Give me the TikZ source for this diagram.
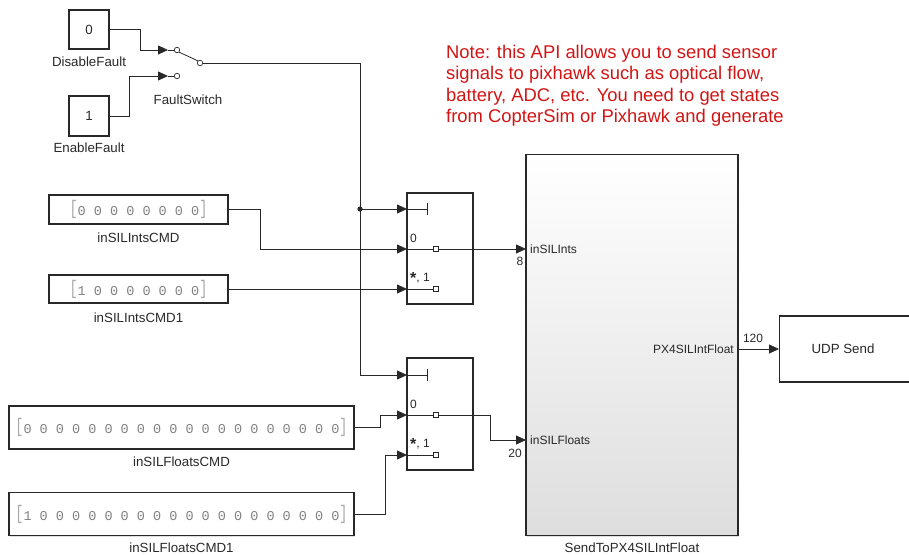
\documentclass[tikz,border=0pt]{standalone}
\usepackage{fontspec}
\usepackage{graphicx}
\setmainfont{Liberation Sans}
\newfontfamily\monof{Liberation Mono}
\usetikzlibrary{arrows.meta,shadows}
\definecolor{blk}{RGB}{40,40,40}
\definecolor{notered}{RGB}{210,20,20}
\definecolor{cgray}{RGB}{130,130,130}
\tikzset{
  blockbox/.style={draw=blk,line width=1.2pt,fill=white,inner sep=0pt,
    drop shadow={opacity=0.25,shadow xshift=1.2pt,shadow yshift=-1.2pt}},
  wire/.style={draw=blk,line width=0.8pt},
  arr/.style={wire,-{Triangle[length=10pt,width=9pt]}},
  lbl/.style={font=\fontsize{13.3}{15}\selectfont,text=blk,inner sep=0pt},
  plbl/.style={font=\fontsize{12}{14}\selectfont,text=blk,inner sep=0pt},
  cval/.style={font=\monof\fontsize{13.5}{15}\selectfont,text=cgray},
  swc/.style={draw=blk,line width=0.7pt,fill=white,circle,inner sep=0pt,minimum size=5.5pt},
  sq/.style={draw=blk,line width=0.7pt,fill=white,inner sep=0pt,minimum size=4.5pt},
}
\newcommand{\brk}[1]{\scalebox{1}[1.45]{\raisebox{0.12ex}{\textcolor{cgray!70}{\monof #1}}}}
\newcommand{\stari}{\raisebox{-0.35ex}{\fontsize{16}{16}\selectfont\textbf{*}}}
\begin{document}
\begin{tikzpicture}[x=1pt,y=-1pt]
\useasboundingbox (0,0) rectangle (909,554);
\clip (0,0) rectangle (909,554);

% constant blocks
\node[blockbox,minimum width=40pt,minimum height=39pt,lbl] (df) at (89,29.5) {0};
\node[lbl] (dfl) at (89,62) {DisableFault};
\node[blockbox,minimum width=40pt,minimum height=40pt,lbl] (ef) at (89,116) {1};
\node[lbl] (efl) at (89,148) {EnableFault};

% switch
\coordinate (sw1) at (168,50);
\coordinate (sw2) at (168,76);
\node[swc] (c1) at (177,50) {};
\node[swc] (c2) at (177,76) {};
\node[swc] (c3) at (200,63) {};
\draw[wire] (sw1) -- (c1.west);
\draw[wire] (sw2) -- (c2.west);
\draw[wire] (c1.south east) -- (c3.north west);
\node[lbl] (fsl) at (188,100) {FaultSwitch};

% vector constants
\node[blockbox,minimum width=179pt,minimum height=29pt,cval] (ic) at (138.5,209.5)
  {\brk{[}0 0 0 0 0 0 0 0\brk{]}};
\node[lbl] (icl) at (138.5,238) {inSILIntsCMD};
\node[blockbox,minimum width=179pt,minimum height=28pt,cval] (ic1) at (138.5,289)
  {\brk{[}1 0 0 0 0 0 0 0\brk{]}};
\node[lbl] (ic1l) at (138.5,318) {inSILIntsCMD1};
\node[blockbox,minimum width=345pt,minimum height=43pt,cval] (fc) at (181.5,427.5)
  {\brk{[}0 0 0 0 0 0 0 0 0 0 0 0 0 0 0 0 0 0 0 0\brk{]}};
\node[lbl] (fcl) at (181.5,462) {inSILFloatsCMD};
\node[blockbox,minimum width=345pt,minimum height=43pt,cval] (fc1) at (181.5,514)
  {\brk{[}1 0 0 0 0 0 0 0 0 0 0 0 0 0 0 0 0 0 0 0\brk{]}};
\node[lbl] (fc1l) at (181.5,548) {inSILFloatsCMD1};

% multiport switches
\node[blockbox,minimum width=66pt,minimum height=111pt] (s1) at (440,248.5) {};
\node[blockbox,minimum width=66pt,minimum height=112pt] (s2) at (440,414) {};
\coordinate (s1a) at (407,209);
\coordinate (s1b) at (407,249);
\coordinate (s1c) at (407,289);
\coordinate (s1o) at (473,249);
\coordinate (s2a) at (407,375);
\coordinate (s2b) at (407,415);
\coordinate (s2c) at (407,455);
\coordinate (s2o) at (473,415);
% internals s1
\draw[wire,line width=0.6pt] (s1a) -- ++(20,0) coordinate (t1);
\draw[wire,line width=0.7pt] ([yshift=-6]t1) -- ([yshift=6]t1);
\node[sq] (q1b) at (436,249) {};
\node[sq] (q1c) at (436,289) {};
\draw[wire,line width=0.6pt] (s1b) -- (q1b.west);
\draw[wire,line width=0.6pt] (s1c) -- (q1c.west);
\draw[wire,line width=0.6pt] (q1b.east) -- (s1o);
\node[plbl,anchor=west] (z1) at (410,238) {0};
\node[plbl,anchor=west] (o1) at (410,278) {\stari, 1};
% internals s2
\draw[wire,line width=0.6pt] (s2a) -- ++(20,0) coordinate (t2);
\draw[wire,line width=0.7pt] ([yshift=-6]t2) -- ([yshift=6]t2);
\node[sq] (q2b) at (436,415) {};
\node[sq] (q2c) at (436,455) {};
\draw[wire,line width=0.6pt] (s2b) -- (q2b.west);
\draw[wire,line width=0.6pt] (s2c) -- (q2c.west);
\draw[wire,line width=0.6pt] (q2b.east) -- (s2o);
\node[plbl,anchor=west] (z2) at (410,404) {0};
\node[plbl,anchor=west] (o2) at (410,444) {\stari, 1};

% big subsystem
\node[draw=blk,line width=1.2pt,top color=white,bottom color=black!13,inner sep=0pt,
  minimum width=212pt,minimum height=381pt,
  drop shadow={opacity=0.25,shadow xshift=1.2pt,shadow yshift=-1.2pt}] (big) at (632,345) {};
\node[lbl] (bigl) at (632,548) {SendToPX4SILIntFloat};
\coordinate (bi1) at (526,249);
\coordinate (bi2) at (526,440);
\coordinate (bo) at (738,349);
\node[plbl,anchor=west] (pi1) at (530,249) {inSILInts};
\node[plbl,anchor=west] (pi2) at (530,440) {inSILFloats};
\node[plbl,anchor=east] (po) at (734,349) {PX4SILIntFloat};

% UDP send
\node[blockbox,minimum width=135pt,minimum height=66pt,anchor=west] (udp) at (779,349) {};
\node[lbl] (udpl) at (843,349) {UDP Send};

% note
\node[anchor=north west,inner sep=0pt,text=notered,
  font=\fontsize{18.4}{21.4}\selectfont,align=left] (note) at (446,45)
  {Note: this API allows you to send sensor\\signals to pixhawk such as optical flow,\\battery, ADC, etc. You need to get states\\from CopterSim or Pixhawk and generate};

% connectors
\draw[arr] (df.east) -- (140,29.5) |- (sw1);
\draw[arr] (ef.east) -- (129,116) |- (sw2);
\coordinate (j) at (360,209);
\draw[arr] (c3.east) -- (360,63) |- (s2a);
\draw[arr] (j) -- (s1a);
\fill[blk] (j) circle (2.6pt);
\draw[arr] (ic.east) -- (260,209.5) |- (s1b);
\draw[arr] (ic1.east) -- (s1c);
\draw[arr] (fc.east) -- (380,427.5) |- (s2b);
\draw[arr] (fc1.east) -- (385,514) |- (s2c);
\draw[arr] (s1o) -- (bi1);
\draw[arr] (s2o) -- (490,415) |- (bi2);
\draw[arr] (bo) -- (udp.west);

% signal dimension labels
\node[plbl] (d8) at (520,261) {8};
\node[plbl] (d20) at (515,453) {20};
\node[plbl] (d120) at (753,338) {120};
\end{tikzpicture}
\end{document}
